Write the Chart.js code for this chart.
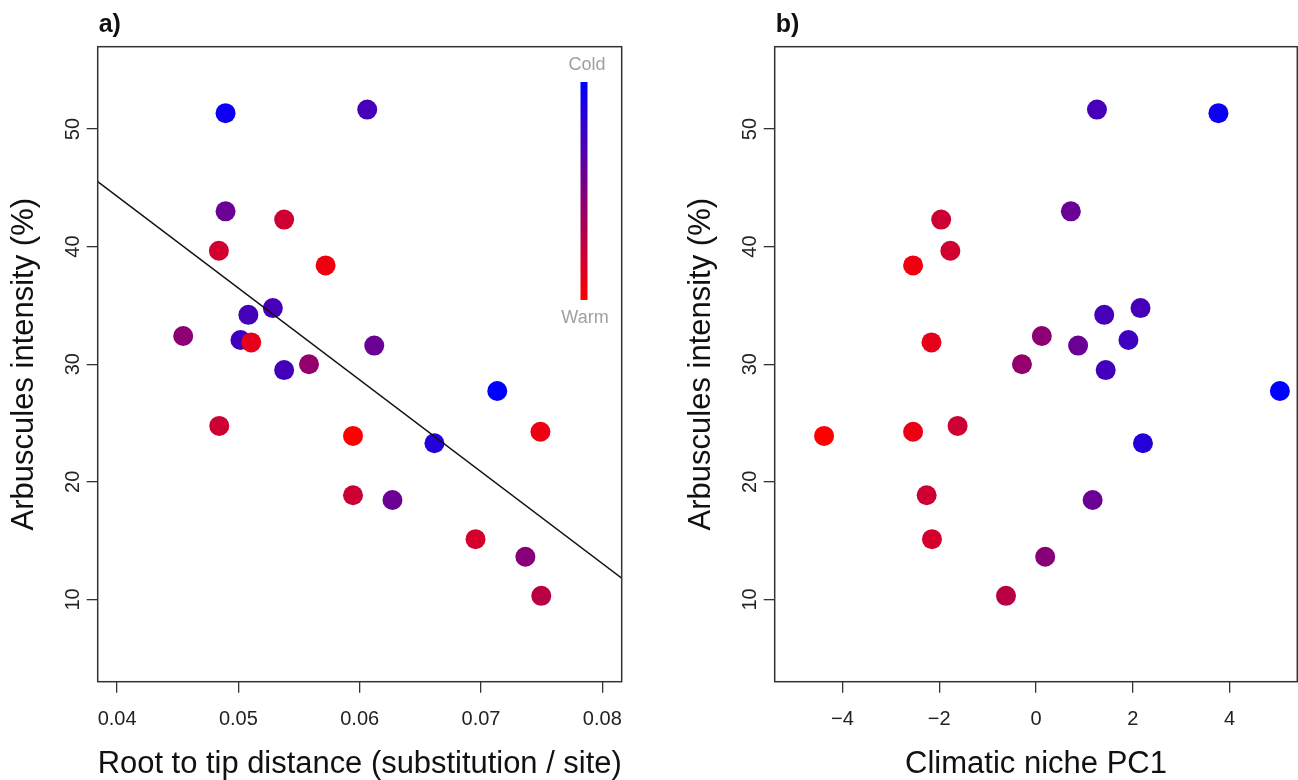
<!DOCTYPE html>
<html>
<head>
<meta charset="utf-8">
<script src="https://cdn.jsdelivr.net/npm/chart.js@4.4.0/dist/chart.umd.min.js"></script>
<style>
  html, body { margin: 0; padding: 0; background: #fff; }
  body { width: 1298px; height: 780px; position: relative; overflow: hidden; }
  canvas { position: absolute; top: 0; }
  #panelA { left: 0; width: 649px; height: 780px; }
  #panelB { left: 677px; width: 650px; height: 780px; }
</style>
</head>
<body>
<canvas id="panelA" width="649" height="780"></canvas>
<canvas id="panelB" width="650" height="780"></canvas>
<script>
// Datos (un elemento por especie)
const rootTip = [0.04894, 0.06062, 0.04894, 0.05377, 0.04839, 0.05719, 0.05284, 0.05082,
                 0.04545, 0.05017, 0.05106, 0.0612, 0.05582, 0.05377, 0.07134, 0.04842,
                 0.05945, 0.0749, 0.06616, 0.05945, 0.0627, 0.06955, 0.07366, 0.07497];
const pc1 = [3.77, 1.26, 0.72, -1.96, -1.77, -2.54, 2.16, 1.41,
             0.12, 1.91, -2.16, 0.87, -0.29, 1.44, 5.04, -1.62,
             -4.38, -2.54, 2.21, -2.26, 1.17, -2.15, 0.19, -0.62];
const arbuscules = [51.35, 51.65, 43.0, 42.3, 39.65, 38.4, 34.77, 34.2,
                    32.4, 32.06, 31.85, 31.58, 30.0, 29.5, 27.72, 24.75,
                    23.9, 24.26, 23.28, 18.86, 18.45, 15.12, 13.63, 10.3];
// 0 = cálido (rojo), 1 = frío (azul)
const coldness = [0.95, 0.72, 0.58, 0.2, 0.18, 0.06, 0.72, 0.73,
                  0.45, 0.75, 0.1, 0.58, 0.42, 0.74, 1.0, 0.2,
                  0.0, 0.07, 0.85, 0.2, 0.58, 0.17, 0.47, 0.27];

const xTicksA = [0.04, 0.05, 0.06, 0.07, 0.08];
const xTickLabelsA = ['0.04', '0.05', '0.06', '0.07', '0.08'];
const xTicksB = [-4, -2, 0, 2, 4];
const xTickLabelsB = ['\u22124', '\u22122', '0', '2', '4'];
const yTicks = [10, 20, 30, 40, 50];
const yTickLabels = ['10', '20', '30', '40', '50'];

const xLimA = [0.0384, 0.0816];
const xLimB = [-5.4, 5.4];
const yLim = [3, 57];

// Recta de regresión del panel a)
const regIntercept = 75.5;
const regSlope = -780.6;

Chart.defaults.font.family = '"Liberation Sans", Arial, Helvetica, sans-serif';
Chart.defaults.color = '#222';

function colorFrio(t) {
    return `rgb(${Math.round(255 * (1 - t))},0,${Math.round(255 * t)})`;
}

// Caja, etiquetas del eje y, letra del panel y barra de color
const marcoR = {
    id: 'marcoR',
    afterDraw(chart, args, opts) {
        const ctx = chart.ctx;
        const area = chart.chartArea;
        const y = chart.scales.y;
        ctx.save();
        ctx.strokeStyle = '#333';
        ctx.lineWidth = 1.5;
        ctx.strokeRect(area.left, area.top, area.right - area.left, area.bottom - area.top);

        ctx.fillStyle = '#222';
        ctx.font = '20px "Liberation Sans", Arial, sans-serif';
        ctx.textAlign = 'center';
        ctx.textBaseline = 'middle';
        yTicks.forEach((v, i) => {
            const py = y.getPixelForValue(v);
            ctx.save();
            ctx.translate(73, py);
            ctx.rotate(-Math.PI / 2);
            ctx.fillText(yTickLabels[i], 0, 0);
            ctx.restore();
        });

        ctx.fillStyle = '#111';
        ctx.font = 'bold 25px "Liberation Sans", Arial, sans-serif';
        ctx.textAlign = 'left';
        ctx.textBaseline = 'alphabetic';
        ctx.fillText(opts.letra, area.left + 1, 32);

        if (opts.barra) {
            const grad = ctx.createLinearGradient(0, 82, 0, 300);
            grad.addColorStop(0, 'rgb(0,0,255)');
            grad.addColorStop(1, 'rgb(255,0,0)');
            ctx.fillStyle = grad;
            ctx.fillRect(580.5, 82, 7, 218);
            ctx.fillStyle = '#a0a0a0';
            ctx.font = '18px "Liberation Sans", Arial, sans-serif';
            ctx.textAlign = 'center';
            ctx.textBaseline = 'middle';
            ctx.fillText('Cold', 587, 65);
            ctx.fillText('Warm', 585, 318);
        }
        ctx.restore();
    }
};

function crearPanel(id, xs, xLim, xTicks, xLabels, xTitulo, letra, conRecta, padRight) {
    const puntos = xs.map((x, i) => ({ x: x, y: arbuscules[i] }));
    const datasets = [{
        type: 'scatter',
        data: puntos,
        pointRadius: 10,
        pointHoverRadius: 10,
        pointBorderWidth: 0,
        pointBackgroundColor: coldness.map(colorFrio),
        order: 1
    }];
    if (conRecta) {
        datasets.unshift({
            type: 'line',
            data: xLim.map(x => ({ x: x, y: regIntercept + regSlope * x })),
            borderColor: '#111',
            borderWidth: 1.4,
            pointRadius: 0,
            fill: false,
            order: 0
        });
    }
    return new Chart(document.getElementById(id), {
        type: 'scatter',
        data: { datasets: datasets },
        options: {
            responsive: false,
            animation: false,
            events: [],
            layout: { padding: { top: 46.7, right: padRight, bottom: 0, left: 0 } },
            plugins: {
                legend: { display: false },
                tooltip: { enabled: false },
                marcoR: { letra: letra, barra: conRecta }
            },
            scales: {
                x: {
                    type: 'linear',
                    min: xLim[0],
                    max: xLim[1],
                    afterBuildTicks: s => { s.ticks = xTicks.map(v => ({ value: v })); },
                    afterFit: s => { s.height = 98.3; },
                    grid: { drawOnChartArea: false, drawTicks: true, tickLength: 11, color: '#333', lineWidth: 1.3 },
                    border: { display: false },
                    ticks: {
                        padding: 15,
                        color: '#222',
                        font: { size: 20 },
                        maxRotation: 0,
                        autoSkip: false,
                        callback: (v, i) => xLabels[i]
                    },
                    title: {
                        display: true,
                        text: xTitulo,
                        color: '#111',
                        font: { size: 31, lineHeight: 1 },
                        padding: { top: 0, bottom: 0 }
                    }
                },
                y: {
                    type: 'linear',
                    min: yLim[0],
                    max: yLim[1],
                    afterBuildTicks: s => { s.ticks = yTicks.map(v => ({ value: v })); },
                    afterFit: s => { s.width = 97.7; },
                    grid: { drawOnChartArea: false, drawTicks: true, tickLength: 11, color: '#333', lineWidth: 1.3 },
                    border: { display: false },
                    ticks: { display: false },
                    title: {
                        display: true,
                        text: 'Arbuscules intensity (%)',
                        color: '#111',
                        font: { size: 31, lineHeight: 1 },
                        padding: { top: 9, bottom: 0 }
                    }
                }
            }
        },
        plugins: [marcoR]
    });
}

crearPanel('panelA', rootTip, xLimA, xTicksA, xTickLabelsA,
    'Root to tip distance (substitution / site)', 'a)', true, 27.3);
// el lienzo b) sobresale de la página; el recuadro termina en x = 1297
crearPanel('panelB', pc1, xLimB, xTicksB, xTickLabelsB,
    'Climatic niche PC1', 'b)', false, 29.7);
</script>
</body>
</html>
